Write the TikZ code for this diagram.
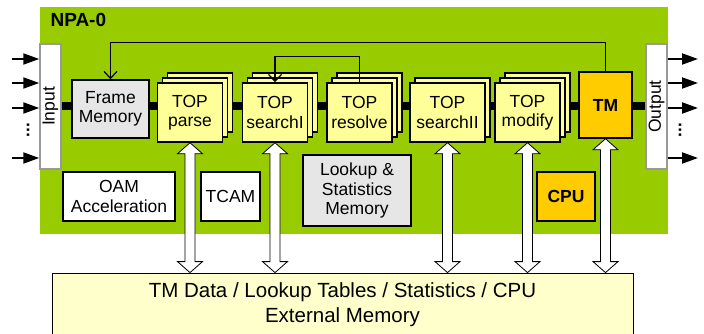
\documentclass[tikz,border=0pt]{standalone}
\usepackage{fontspec}
\setmainfont{Liberation Sans}
\usetikzlibrary{calc,shadows,arrows.meta}

\definecolor{npagreen}{HTML}{99CC00}
\definecolor{stageyellow}{HTML}{FFFF99}
\definecolor{tmgold}{HTML}{FFCC00}
\definecolor{memgrey}{HTML}{E6E6E6}
\definecolor{extyellow}{HTML}{FFFFCC}
\definecolor{iogrey}{HTML}{999999}

\begin{document}
\begin{tikzpicture}[
    x=1pt, y=-1pt,
    box/.style={rectangle, draw=black, line width=1.5pt, align=center, inner sep=1pt, font=\fontsize{17.5}{19.5}\selectfont},
    membox/.style={box, fill=memgrey},
    whitebox/.style={box, fill=white},
    stagebox/.style={box, fill=stageyellow, minimum width=65pt, minimum height=59pt},
    goldbox/.style={box, fill=tmgold, font=\fontsize{17.5}{19.5}\selectfont\bfseries},
    iobox/.style={rectangle, draw=iogrey, fill=white, line width=1.5pt, minimum width=21pt, minimum height=125pt},
    sheet/.style={copy shadow={shadow xshift=#1, shadow yshift=#1, fill=stageyellow, draw=black, line width=1.5pt}},
    bus/.style={line width=8pt},
    ioarrow/.style={-{Triangle[length=16pt,width=11pt]}, line width=2pt},
    loopline/.style={-{Straight Barb[length=7pt,width=13pt]}, line width=1.2pt},
    busarrow/.style={draw=black, fill=white, line width=0.8pt}
]
\clip (0,0) rectangle (704,334);

% NPA-0 block
\node[fill=npagreen, minimum width=628pt, minimum height=227pt, inner sep=0pt] (npa) at (354,120.5) {};
\node[anchor=west, font=\fontsize{19}{22}\selectfont\bfseries] (npalabel) at (47,20) {NPA-0};

% Input and output ports
\node[iobox] (input) at (50.5,106.5) {};
\node[iobox] (output) at (656.5,106.5) {};
\node[rotate=90, font=\fontsize{17.5}{19.5}\selectfont] (inlabel) at (input) {Input};
\node[rotate=90, font=\fontsize{17.5}{19.5}\selectfont] (outlabel) at (output) {Output};

% Bus behind the stages
\draw[bus] (input.east) -- (output.west);

% Pipeline stages
\node[membox, minimum width=77pt, minimum height=58pt] (frame) at (110.5,109) {Frame\\Memory};
\node[stagebox, sheet=10pt, sheet=5pt] (parse) at (190,112.5) {TOP\\parse};
\node[stagebox, sheet=10pt, sheet=5pt] (searchI) at (275,112.5) {TOP\\searchI};
\node[stagebox, sheet=10pt, sheet=5pt] (resolve) at (359.5,112.5) {TOP\\resolve};
\node[stagebox, sheet=5pt, minimum width=75pt] (searchII) at (447.5,112.5) {TOP\\searchII};
\node[stagebox, sheet=10pt, sheet=5pt] (modify) at (527.5,112.5) {TOP\\modify};
\node[goldbox, minimum width=53pt, minimum height=66pt] (tm) at (605.5,105) {TM};

% Feedback paths
\draw[loopline] (tm.north) -- ++(0,-29) -| (frame.north);
\draw[loopline] (resolve.north) -- ++(0,-26) -| (searchI.north);

% Helpers inside NPA-0
\node[whitebox, minimum width=112pt, minimum height=49pt] (oam) at (119,196.5) {OAM\\Acceleration};
\node[whitebox, minimum width=59pt, minimum height=49pt] (tcam) at (230.5,196.5) {TCAM};
\node[membox, minimum width=108pt, minimum height=71pt] (lookup) at (357,190.5) {Lookup \&\\Statistics\\Memory};
\node[goldbox, minimum width=58pt, minimum height=49pt] (cpu) at (566,196.5) {CPU};

% External memory
\node[rectangle, draw=black, fill=extyellow, line width=0.8pt, minimum width=581pt, minimum height=63pt, align=center, font=\fontsize{20.5}{25}\selectfont] (ext) at (342.5,304.5) {TM Data / Lookup Tables / Statistics / CPU\\External Memory};

% Memory access arrows
\foreach \n in {parse,searchI,searchII,modify,tm} {
  \draw[busarrow] (\n.south) -- ++(12.5,11) -- ++(-7.5,0) -- ($(\n.south |- ext.north)+(5,-11)$) -- ++(7.5,0) -- (\n.south |- ext.north) -- ++(-12.5,-11) -- ++(7.5,0) -- ($(\n.south)+(-5,11)$) -- ++(-7.5,0) -- cycle;
}

% Port arrows
\foreach \y [count=\i] in {59,83,108,158} {
  \coordinate (src\i) at (12,\y);
  \draw[ioarrow] (src\i) -- (src\i -| input.west);
  \coordinate (dst\i) at (698,\y);
  \draw[ioarrow] (output.east |- dst\i) -- (dst\i);
}
\node[rotate=90, font=\fontsize{17}{17}\selectfont\bfseries] (indots) at (28,130) {...};
\node[rotate=90, font=\fontsize{17}{17}\selectfont\bfseries] (outdots) at (680,130) {...};

\end{tikzpicture}
\end{document}
